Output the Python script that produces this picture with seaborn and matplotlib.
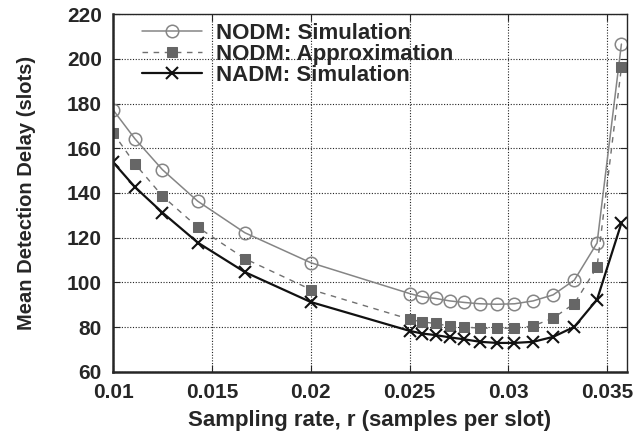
import numpy as np
import pandas as pd
import seaborn as sns
from matplotlib import pyplot as plt

# sampling rate r = 1/n
slot_gap = [100, 90, 80, 70, 60, 50, 40, 39, 38, 37, 36, 35, 34, 33, 32, 31, 30, 29, 28]
rate = [1.0 / n for n in slot_gap]

nodm_sim = [177.2, 164.2, 150.4, 136.3, 122.2, 108.8, 95.0, 93.5, 92.8, 91.7,
            91.0, 90.4, 90.2, 90.4, 91.7, 94.4, 101.0, 117.6, 206.6]
nodm_approx = [166.9, 153.0, 138.6, 124.7, 110.6, 96.8, 83.5, 82.3, 81.6, 80.4,
               80.0, 79.5, 79.5, 79.5, 80.5, 84.0, 90.5, 106.9, 196.2]
nadm_sim = [153.8, 142.6, 131.2, 117.8, 104.6, 91.2, 78.3, 77.1, 76.4, 75.4,
            74.5, 73.4, 72.9, 72.9, 73.4, 75.6, 80.1, 92.3, 126.5]

x_ticks = [0.01, 0.015, 0.02, 0.025, 0.03, 0.035]
x_tick_labels = ['0.01', '0.015', '0.02', '0.025', '0.03', '0.035']
y_ticks = [60, 80, 100, 120, 140, 160, 180, 200, 220]

sns.set_style("ticks")
plt.rcParams['font.family'] = ['Liberation Sans', 'DejaVu Sans']
plt.rcParams['font.weight'] = 'bold'

fig = plt.figure(figsize=(6.37, 4.41), dpi=100)
ax = fig.add_axes([0.1774, 0.157, 0.807, 0.811])

df = pd.DataFrame({'r': rate, 'sim': nodm_sim, 'approx': nodm_approx, 'nadm': nadm_sim})

sns.lineplot(data=df, x='r', y='sim', ax=ax, color='#858585', lw=1.1,
             marker='o', markersize=9, markerfacecolor='none',
             markeredgecolor='#858585', markeredgewidth=1.1,
             label='NODM: Simulation')
sns.lineplot(data=df, x='r', y='approx', ax=ax, color='#707070', lw=1.0,
             linestyle=(0, (4, 4)), marker='s', markersize=6.5,
             markerfacecolor='#666666', markeredgecolor='#666666',
             label='NODM: Approximation')
sns.lineplot(data=df, x='r', y='nadm', ax=ax, color='#111111', lw=1.6,
             marker='x', markersize=9, markeredgewidth=1.5,
             markeredgecolor='#111111', label='NADM: Simulation')

ax.set_xlim(0.01, 0.036)
ax.set_ylim(60, 220)
ax.set_xticks(x_ticks)
ax.set_xticklabels(x_tick_labels)
ax.set_yticks(y_ticks)
ax.grid(True, linestyle=(0, (1, 1.5)), color='#222222', lw=0.8)
ax.tick_params(direction='in', length=5, labelsize=15, top=True, right=True, pad=8)
for lab in ax.get_xticklabels() + ax.get_yticklabels():
    lab.set_fontweight('bold')
for s in ax.spines.values():
    s.set_linewidth(1.0)
ax.spines['left'].set_linewidth(1.8)
ax.spines['bottom'].set_linewidth(1.8)

ax.set_xlabel('Sampling rate, r (samples per slot)', fontsize=16, fontweight='bold', labelpad=6)
ax.set_ylabel('Mean Detection Delay (slots)', fontsize=14.5, fontweight='bold', labelpad=22)

leg = ax.legend(loc='upper left', frameon=False, fontsize=16, handlelength=2.7,
                borderaxespad=0.0, labelspacing=0.0, handletextpad=0.6,
                bbox_to_anchor=(0.04, 1.0))
for t in leg.get_texts():
    t.set_fontweight('bold')

fig.savefig('out.png', dpi=100)
